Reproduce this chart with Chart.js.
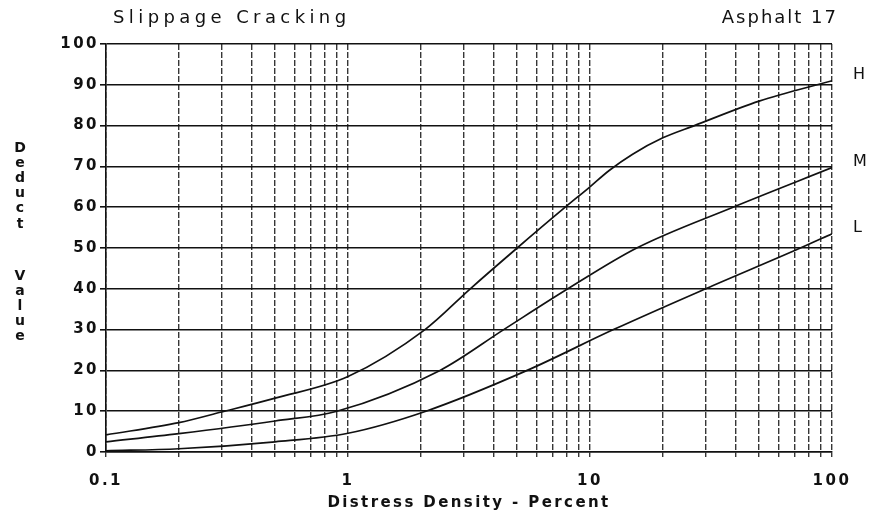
<!DOCTYPE html>
<html>
<head>
<meta charset="utf-8">
<script src="https://cdn.jsdelivr.net/npm/chart.js@4.4.1/dist/chart.umd.min.js"></script>
<style>
  html, body { margin: 0; padding: 0; background: #fff; }
  #wrap { width: 872px; height: 515px; }
</style>
</head>
<body>
<div id="wrap"><canvas id="dvChart" width="872" height="515"></canvas></div>
<script>
const hDensity = [0.1, 0.2, 0.3, 0.5, 1, 2.08, 3.2, 5.0, 7.9, 10, 12, 15, 20, 27, 50, 100];
const hDeduct  = [4.2, 7.2, 9.8, 13.2, 18.5, 30, 40, 50, 60, 65, 69, 73, 77, 80, 86, 91];

const mDensity = [0.1, 0.2, 0.5, 0.9, 2.4, 4.4, 8.1, 15.6, 39, 100];
const mDeduct  = [2.5, 4.5, 7.6, 10, 20, 30, 40, 50, 60, 69.7];

const lDensity = [0.1, 0.2, 0.5, 1, 2.1, 5.5, 12.5, 30, 74, 100];
const lDeduct  = [0.3, 0.8, 2.5, 4.6, 10, 20, 30, 40, 50, 53.5];

// grid lines on the log axis, and which of them get a label
const gridDensity = [0.1, 0.2, 0.3, 0.4, 0.5, 0.6, 0.7, 0.8, 0.9,
                     1, 2, 3, 4, 5, 6, 7, 8, 9,
                     10, 20, 30, 40, 50, 60, 70, 80, 90, 100];
const labelDensity = [0.1, 1, 10, 100];

const chartTitle = 'Slippage Cracking';
const chartCode = 'Asphalt 17';
const yTitleTop = ['D', 'e', 'd', 'u', 'c', 't'];
const yTitleBottom = ['V', 'a', 'l', 'u', 'e'];
const xTitle = 'Distress Density - Percent';
const curveNames = ['H', 'M', 'L'];

const FONT = '"DejaVu Sans", "Liberation Sans", sans-serif';

function toPoints(xs, ys) {
    return xs.map((x, i) => ({ x: x, y: ys[i] }));
}

function isLabelled(v) {
    return labelDensity.some(l => Math.abs(l - v) < 1e-9);
}

// wider letter spacing for the tick labels, like the typewritten original
const spacingPlugin = {
    id: 'tickSpacing',
    beforeDraw(chart) {
        chart.ctx.letterSpacing = '2.5px';
    }
};

// draws the free-standing texts: title, code, stacked y title, x title, curve names
const textPlugin = {
    id: 'sheetTexts',
    afterDraw(chart) {
        const ctx = chart.ctx;
        const sy = chart.scales.y;
        ctx.save();
        ctx.fillStyle = '#111';
        ctx.textBaseline = 'middle';

        ctx.font = '18px ' + FONT;
        ctx.letterSpacing = '4.4px';
        ctx.textAlign = 'left';
        ctx.fillText(chartTitle, 113, 18);
        ctx.letterSpacing = '2px';
        ctx.textAlign = 'right';
        ctx.fillText(chartCode, 838, 18);

        ctx.font = 'bold 14px ' + FONT;
        ctx.letterSpacing = '0px';
        ctx.textAlign = 'center';
        yTitleTop.forEach((ch, i) => ctx.fillText(ch, 20, 148 + i * 15.2));
        yTitleBottom.forEach((ch, i) => ctx.fillText(ch, 20, 276 + i * 15.2));

        ctx.font = 'bold 15px ' + FONT;
        ctx.letterSpacing = '2.4px';
        ctx.textAlign = 'center';
        ctx.fillText(xTitle, 469, 503);

        ctx.font = '16px ' + FONT;
        ctx.letterSpacing = '0px';
        ctx.textAlign = 'left';
        const lastY = [hDeduct, mDeduct, lDeduct].map(a => a[a.length - 1]);
        curveNames.forEach((n, i) => {
            ctx.fillText(n, 853, sy.getPixelForValue(lastY[i]) - 6);
        });
        ctx.restore();
    }
};

const lineStyle = {
    borderColor: '#111',
    borderWidth: 1.7,
    pointRadius: 0,
    fill: false,
    cubicInterpolationMode: 'monotone'
};

new Chart(document.getElementById('dvChart'), {
    type: 'line',
    data: {
        datasets: [
            Object.assign({ label: 'H', data: toPoints(hDensity, hDeduct) }, lineStyle),
            Object.assign({ label: 'M', data: toPoints(mDensity, mDeduct) }, lineStyle),
            Object.assign({ label: 'L', data: toPoints(lDensity, lDeduct) }, lineStyle)
        ]
    },
    options: {
        responsive: false,
        animation: false,
        layout: { padding: { top: 44, right: 40, left: 0, bottom: 0 } },
        plugins: {
            legend: { display: false },
            tooltip: { enabled: false },
            title: { display: false }
        },
        scales: {
            x: {
                type: 'logarithmic',
                min: 0.1,
                max: 100,
                afterBuildTicks: scale => {
                    scale.ticks = gridDensity.map(v => ({ value: v }));
                },
                afterFit: scale => { scale.height = 63; },
                ticks: {
                    autoSkip: false,
                    maxRotation: 0,
                    padding: 15,
                    color: '#111',
                    font: { family: FONT, size: 15, weight: 'bold' },
                    callback: v => isLabelled(v) ? (v < 1 ? '0.1' : String(Math.round(v))) : ''
                },
                grid: {
                    color: 'rgba(20,20,20,0.85)',
                    lineWidth: 1.4,
                    tickLength: 5
                },
                border: { display: true, color: '#111', width: 1.6, dash: [6, 2] }
            },
            y: {
                min: 0,
                max: 100,
                afterFit: scale => { scale.width = 106; },
                ticks: {
                    stepSize: 10,
                    padding: 1,
                    color: '#111',
                    font: { family: FONT, size: 15, weight: 'bold' }
                },
                grid: {
                    color: '#111',
                    lineWidth: 1.6,
                    tickLength: 6
                },
                border: { display: true, color: '#111', width: 1.6 }
            }
        }
    },
    plugins: [spacingPlugin, textPlugin]
});
</script>
</body>
</html>
